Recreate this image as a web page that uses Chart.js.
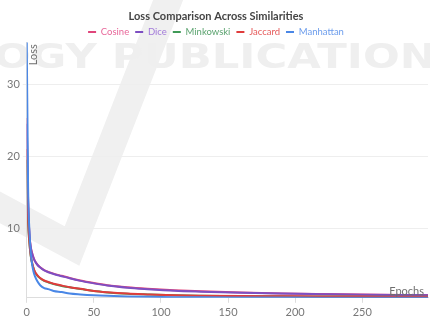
<!DOCTYPE html>
<html>
<head>
<meta charset="utf-8">
<script src="https://cdn.jsdelivr.net/npm/chart.js@4/dist/chart.umd.min.js"></script>
<style>
  html, body { margin: 0; padding: 0; background: #ffffff; }
  #wrap { width: 430px; height: 320px; }
</style>
</head>
<body>
<div id="wrap"><canvas id="chart" width="430" height="320"></canvas></div>
<script>
// Training epochs at which the loss was sampled
const epochs = [0, 1, 2, 3, 4, 5, 6, 8, 10, 13, 16, 20, 26, 32, 40, 50, 60, 75, 90, 110, 130, 160, 190, 220, 250, 280, 299];

// Loss per similarity measure
const cosineLoss    = [25.3, 13.8, 9.2, 7.4, 6.55, 5.95, 5.5, 4.95, 4.6, 4.2, 3.95, 3.7, 3.4, 3.1, 2.75, 2.4, 2.1, 1.8, 1.6, 1.4, 1.27, 1.1, 0.96, 0.87, 0.8, 0.75, 0.73];
const diceLoss      = [24.5, 13.5, 9.0, 7.3, 6.5, 5.9, 5.45, 4.9, 4.55, 4.15, 3.9, 3.65, 3.35, 3.05, 2.7, 2.35, 2.05, 1.75, 1.55, 1.33, 1.2, 1.05, 0.93, 0.85, 0.78, 0.74, 0.72];
const minkowskiLoss = [19.5, 11.0, 7.9, 6.1, 5.1, 4.45, 3.95, 3.4, 3.05, 2.7, 2.5, 2.25, 2.0, 1.8, 1.58, 1.28, 1.1, 0.92, 0.81, 0.69, 0.63, 0.58, 0.55, 0.52, 0.51, 0.5, 0.49];
const jaccardLoss   = [21.0, 11.5, 8.0, 6.2, 5.2, 4.5, 4.0, 3.45, 3.1, 2.75, 2.55, 2.3, 2.05, 1.82, 1.6, 1.3, 1.12, 0.93, 0.82, 0.7, 0.64, 0.59, 0.56, 0.53, 0.52, 0.5, 0.5];
const manhattanLoss = [35.8, 15.5, 9.6, 6.6, 5.0, 4.0, 3.4, 2.6, 2.1, 1.7, 1.55, 1.3, 1.15, 0.95, 0.82, 0.7, 0.62, 0.54, 0.49, 0.44, 0.42, 0.4, 0.38, 0.37, 0.36, 0.355, 0.35];

const seriesNames = ['Cosine', 'Dice', 'Minkowski', 'Jaccard', 'Manhattan'];
const seriesValues = [cosineLoss, diceLoss, minkowskiLoss, jaccardLoss, manhattanLoss];

// Axis tick labels
const xTickValues = [0, 50, 100, 150, 200, 250];
const yTickValues = [10, 20, 30];

const lineColors  = ['#e0457b', '#7d4fc2', '#3f9a57', '#e03c3c', '#4a87e6'];
const labelColors = ['#e8679a', '#a27ad9', '#5ba36f', '#e55a5a', '#6b9cec'];

const FONT = 'Lato, "Open Sans", "Noto Sans", sans-serif';

// Later series are painted over earlier ones
const datasets = seriesNames.map((name, i) => ({
  label: name,
  data: epochs.map((e, k) => ({ x: e, y: seriesValues[i][k] })),
  borderColor: lineColors[i],
  backgroundColor: lineColors[i],
  borderWidth: 2,
  pointRadius: 0,
  cubicInterpolationMode: 'monotone',
  fill: false,
  order: seriesNames.length - i
}));

const allValues = seriesValues.flat();
const yMin = Math.min(...allValues);
const yMax = Math.max(...allValues);

// Faint publisher watermark behind the plot
const watermark = {
  id: 'watermark',
  beforeDraw(chart) {
    const ctx = chart.ctx;
    ctx.save();
    ctx.fillStyle = '#ffffff';
    ctx.fillRect(0, 0, chart.width, chart.height);
    ctx.strokeStyle = '#f0f0f0';
    ctx.lineJoin = 'miter';
    ctx.lineWidth = 28;
    ctx.beginPath();
    ctx.moveTo(-10, 202);
    ctx.lineTo(72, 246);
    ctx.lineTo(172, -10);
    ctx.stroke();
    ctx.fillStyle = '#efefef';
    ctx.font = 'bold 33px "DejaVu Sans"';
    ctx.textBaseline = 'alphabetic';
    const txt = 'OGY PUBLICATION';
    const w = ctx.measureText(txt).width;
    ctx.translate(-6, 68);
    ctx.scale(442 / w, 1);
    ctx.fillText(txt, 0, 0);
    ctx.restore();
  }
};

// Axis titles placed inside the plot corners
const axisTitles = {
  id: 'axisTitles',
  afterDraw(chart) {
    const ctx = chart.ctx;
    const a = chart.chartArea;
    ctx.save();
    ctx.fillStyle = '#6e6e6e';
    ctx.font = '11px ' + FONT;
    ctx.textAlign = 'right';
    ctx.textBaseline = 'alphabetic';
    ctx.fillText('Epochs', a.right - 4, a.bottom - 3);
    ctx.translate(a.left + 7, a.top + 2);
    ctx.rotate(-Math.PI / 2);
    ctx.textAlign = 'right';
    ctx.textBaseline = 'middle';
    ctx.fillText('Loss', 0, 0);
    ctx.restore();
  }
};

new Chart(document.getElementById('chart'), {
  type: 'line',
  data: { datasets },
  plugins: [watermark, axisTitles],
  options: {
    responsive: false,
    animation: false,
    devicePixelRatio: 1,
    layout: { padding: { left: 4, right: 2, top: 0, bottom: -2 } },
    plugins: {
      title: {
        display: true,
        text: 'Loss Comparison Across Similarities',
        color: '#444444',
        font: { family: FONT, size: 11, weight: 'bold' },
        padding: { top: 10, bottom: -2 }
      },
      legend: {
        display: true,
        position: 'top',
        maxHeight: 21,
        labels: {
          usePointStyle: false,
          boxWidth: 8,
          boxHeight: 2,
          padding: 6,
          font: { family: FONT, size: 9.5 },
          generateLabels(chart) {
            return chart.data.datasets.map((ds, i) => ({
              text: ds.label,
              fillStyle: lineColors[i],
              strokeStyle: lineColors[i],
              fontColor: labelColors[i],
              lineWidth: 0,
              hidden: false,
              datasetIndex: i
            }));
          }
        }
      },
      tooltip: { enabled: false }
    },
    scales: {
      x: {
        type: 'linear',
        min: epochs[0],
        max: epochs[epochs.length - 1],
        afterBuildTicks(scale) { scale.ticks = xTickValues.map(v => ({ value: v })); },
        grid: { drawOnChartArea: false, color: '#dddddd', tickLength: 5 },
        border: { color: '#dddddd' },
        ticks: { color: '#777777', font: { family: FONT, size: 11 }, padding: 3, maxRotation: 0 }
      },
      y: {
        type: 'linear',
        min: yMin,
        max: yMax,
        afterBuildTicks(scale) { scale.ticks = yTickValues.map(v => ({ value: v })); },
        grid: { color: '#eeeeee', tickLength: 4 },
        border: { color: '#dddddd' },
        ticks: { color: '#777777', font: { family: FONT, size: 11 }, padding: 3 }
      }
    }
  }
});
</script>
</body>
</html>
